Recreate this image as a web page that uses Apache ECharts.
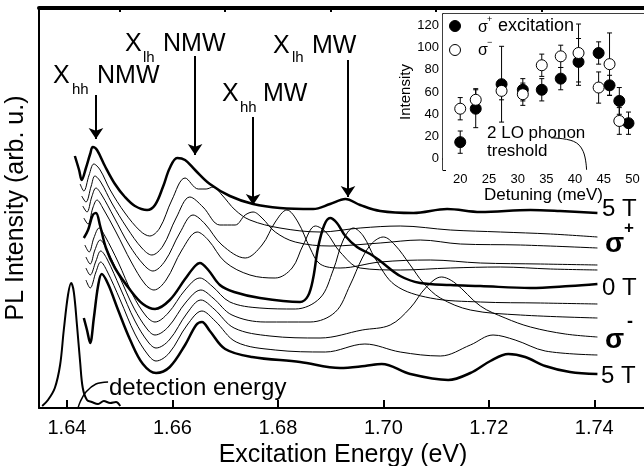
<!DOCTYPE html>
<html>
<head>
<meta charset="utf-8">
<script src="https://cdn.jsdelivr.net/npm/echarts@6/dist/echarts.min.js"></script>
<style>
  html, body { margin: 0; padding: 0; background: #fff; }
  #chart { width: 644px; height: 466px; }
</style>
</head>
<body>
<div id="chart"></div>
<script>
// main panel: excitation energy (eV) vs PL intensity (offset, arb. u.)
const energyTicks = [1.64, 1.66, 1.68, 1.70, 1.72, 1.74]
const energyMinorTicks = [1.65, 1.67, 1.69, 1.71, 1.73]

const sPlus5T = [[1.6415,252],[1.6423,238],[1.6428,228],[1.6436,240],[1.6444,254],[1.6449,261],[1.6457,258],[1.6472,242],[1.6491,224],[1.6510,211],[1.6529,202],[1.6552,198],[1.6567,203],[1.6582,221],[1.6595,240],[1.6609,250],[1.6624,248],[1.6643,238],[1.6671,224],[1.6709,212],[1.6753,204],[1.6804,200],[1.6867,199],[1.6899,204],[1.6928,209],[1.6956,203],[1.6994,197],[1.7057,195],[1.7121,199],[1.7184,196],[1.7279,198],[1.7335,197],[1.7406,195]]
const sPlus4T = [[1.6425,224],[1.6432,217],[1.6442,233],[1.6451,244],[1.6463,238],[1.6482,218],[1.6510,195],[1.6539,177],[1.6557,172],[1.6576,180],[1.6599,208],[1.6624,230],[1.6649,219],[1.6664,219],[1.6677,221],[1.6694,213],[1.6719,198],[1.6747,188],[1.6804,180],[1.6880,176],[1.6956,180],[1.7032,182],[1.7127,178],[1.7222,176],[1.7317,174],[1.7406,171]]
const sPlus3T = [[1.6428,212],[1.6436,206],[1.6446,222],[1.6453,232],[1.6464,226],[1.6485,205],[1.6514,180],[1.6542,160],[1.6561,153],[1.6582,162],[1.6607,190],[1.6633,211],[1.6658,201],[1.6690,183],[1.6719,183],[1.6738,193],[1.6753,196],[1.6770,190],[1.6795,176],[1.6833,166],[1.6899,162],[1.6994,165],[1.7070,168],[1.7146,164],[1.7260,163],[1.7406,160]]
const sPlus2T = [[1.6430,202],[1.6438,196],[1.6447,211],[1.6455,220],[1.6466,213],[1.6489,191],[1.6518,163],[1.6546,143],[1.6563,137],[1.6586,147],[1.6614,175],[1.6639,193],[1.6662,184],[1.6694,163],[1.6738,150],[1.6770,163],[1.6795,186],[1.6817,198],[1.6838,186],[1.6861,160],[1.6880,144],[1.6918,140],[1.6994,146],[1.7089,148],[1.7184,145],[1.7298,144],[1.7406,143]]
const sPlus1T = [[1.6432,190],[1.6440,184],[1.6449,200],[1.6457,208],[1.6468,200],[1.6493,176],[1.6522,146],[1.6548,124],[1.6565,118],[1.6588,128],[1.6618,158],[1.6647,176],[1.6668,168],[1.6700,146],[1.6747,133],[1.6795,130],[1.6827,140],[1.6848,163],[1.6871,182],[1.6891,176],[1.6918,156],[1.6956,140],[1.7032,138],[1.7127,140],[1.7222,141],[1.7317,139],[1.7406,138]]
const s0T = [[1.6432,170],[1.6440,178],[1.6449,193],[1.6455,195],[1.6463,182],[1.6474,160],[1.6491,140],[1.6520,118],[1.6544,104],[1.6567,99],[1.6595,108],[1.6624,129],[1.6643,142],[1.6652,145],[1.6668,138],[1.6690,123],[1.6717,116],[1.6766,110],[1.6842,106],[1.6857,112],[1.6867,130],[1.6876,160],[1.6888,183],[1.6899,190],[1.6912,185],[1.6928,172],[1.6950,161],[1.6975,154],[1.6994,147],[1.7032,132],[1.7070,125],[1.7127,123],[1.7184,122],[1.7279,120],[1.7354,122],[1.7406,124]]
const sMinus1T = [[1.6434,163],[1.6442,156],[1.6451,170],[1.6461,180],[1.6472,172],[1.6497,146],[1.6525,113],[1.6550,92],[1.6567,86],[1.6592,95],[1.6624,118],[1.6652,130],[1.6675,122],[1.6709,106],[1.6766,100],[1.6833,99],[1.6880,110],[1.6905,138],[1.6924,168],[1.6943,180],[1.6962,172],[1.6984,150],[1.7022,123],[1.7089,110],[1.7184,106],[1.7298,105],[1.7406,104]]
const sMinus2T = [[1.6436,151],[1.6444,144],[1.6453,158],[1.6463,168],[1.6474,160],[1.6499,132],[1.6527,100],[1.6552,79],[1.6567,73],[1.6592,81],[1.6626,106],[1.6654,118],[1.6677,110],[1.6713,93],[1.6776,86],[1.6861,86],[1.6909,96],[1.6937,123],[1.6960,150],[1.6979,165],[1.7000,171],[1.7022,163],[1.7051,143],[1.7076,125],[1.7108,110],[1.7165,98],[1.7260,93],[1.7406,90]]
const sMinus3T = [[1.6436,140],[1.6444,133],[1.6455,147],[1.6464,157],[1.6476,149],[1.6501,120],[1.6529,87],[1.6554,66],[1.6569,60],[1.6594,68],[1.6628,95],[1.6654,108],[1.6679,99],[1.6717,80],[1.6785,72],[1.6880,70],[1.6960,78],[1.7013,83],[1.7051,100],[1.7080,120],[1.7110,131],[1.7136,125],[1.7184,102],[1.7231,90],[1.7279,81],[1.7345,74],[1.7406,71]]
const sMinus4T = [[1.6436,128],[1.6444,120],[1.6455,136],[1.6464,146],[1.6476,137],[1.6501,108],[1.6529,74],[1.6554,53],[1.6569,47],[1.6594,55],[1.6628,83],[1.6656,97],[1.6681,87],[1.6721,66],[1.6795,58],[1.6890,56],[1.6965,64],[1.7032,56],[1.7108,52],[1.7165,63],[1.7208,73],[1.7250,68],[1.7307,57],[1.7406,53]]
const sMinus5T = [[1.6432,90],[1.6438,78],[1.6444,65],[1.6451,90],[1.6459,122],[1.6466,134],[1.6478,124],[1.6497,98],[1.6520,68],[1.6544,44],[1.6569,35],[1.6595,41],[1.6624,63],[1.6645,83],[1.6656,86],[1.6671,77],[1.6700,59],[1.6751,51],[1.6842,46],[1.6918,40],[1.6965,42],[1.6997,44],[1.7051,34],[1.7123,28],[1.7165,35],[1.7203,47],[1.7237,54],[1.7269,51],[1.7307,42],[1.7354,36],[1.7406,34]]
const detection = [[1.6353,2],[1.6364,8],[1.6377,20],[1.6387,43],[1.6394,78],[1.6402,113],[1.6408,125],[1.6413,116],[1.6419,83],[1.6425,46],[1.6430,20],[1.6438,8],[1.6447,6],[1.6459,4],[1.6470,7],[1.6482,5],[1.6493,6],[1.6501,2]]
const detectionPointer = [[1.6478,26],[1.6455,24],[1.6436,16],[1.6425,6],[1.6421,0]]

// arrows: energy, from, to
const arrowMarks = [[1.6455,313,269],[1.6643,352,253],[1.6753,291,203],[1.6933,348,211]]

// inset: intensity vs detuning
const detuningTicks = [20, 25, 30, 35, 40, 45, 50]
const plusDetuning = [20, 22.7, 27.2, 30.9, 34.2, 37.5, 40.6, 44.1, 46.0, 47.7, 49.3]
const plusIntensity = [15, 45, 67, 62, 62, 72, 87, 95, 66, 52, 32]
const plusError = [10, 17, 34, 10, 10, 10, 21, 10, 9, 12, 10]
const minusDetuning = [20, 22.7, 27.2, 30.9, 34.2, 37.5, 40.6, 44.1, 46.0, 47.7]
const minusIntensity = [45, 53, 61, 58, 84, 92, 95, 64, 85, 34]
const minusError = [10, 10, 8, 10, 10, 10, 26, 14, 28, 12]
const thresholdPointer = [[35.8,18.8],[39.7,15.8],[41.4,6.8],[42.0,-10]]

const FONT = "Liberation Sans, Arial, sans-serif"
const chart = echarts.init(document.getElementById("chart"))

const spectrum = (data, width) => ({
    type: "line",
    xAxisIndex: 0,
    yAxisIndex: 0,
    data,
    smooth: 0.35,
    symbol: "none",
    silent: true,
    lineStyle: { color: "#000", width },
    z: 3,
})

const errorBars = (xs, ys, es) => ({
    type: "custom",
    xAxisIndex: 3,
    yAxisIndex: 1,
    silent: true,
    data: xs.map((x, i) => [x, ys[i] - es[i], ys[i] + es[i]]),
    renderItem: (params, api) => {
        const top = api.coord([api.value(0), api.value(2)])
        const bot = api.coord([api.value(0), api.value(1)])
        const st = { stroke: "#000", lineWidth: 1 }
        return {
            type: "group",
            children: [
                { type: "line", shape: { x1: top[0], y1: top[1], x2: bot[0], y2: bot[1] }, style: st },
                { type: "line", shape: { x1: top[0] - 2.5, y1: top[1], x2: top[0] + 2.5, y2: top[1] }, style: st },
                { type: "line", shape: { x1: bot[0] - 2.5, y1: bot[1], x2: bot[0] + 2.5, y2: bot[1] }, style: st },
            ],
        }
    },
    z: 5,
})

const txt = (text, x, y, size, weight) => ({
    type: "text",
    x,
    y,
    silent: true,
    style: {
        text,
        fill: "#000",
        fontSize: size,
        fontFamily: FONT,
        fontWeight: weight || "normal",
        verticalAlign: "middle",
    },
    z: 20,
})

const option = {
    animation: false,
    backgroundColor: "#fff",
    grid: [
        { left: 39, top: 8, right: -3, bottom: 58, outerBoundsMode: "none" },
        { left: 443, top: 14, right: 0, bottom: 296, outerBoundsMode: "none", show: true, backgroundColor: "#fff", borderWidth: 0, z: 4 },
    ],
    xAxis: [
        {
            gridIndex: 0, type: "value", min: 1.6347, max: 1.75,
            axisLine: { lineStyle: { color: "#000", width: 2 } },
            axisTick: { inside: true, length: 8, lineStyle: { color: "#000", width: 2 }, customValues: energyTicks },
            axisLabel: { customValues: energyTicks, color: "#000", fontSize: 20, fontFamily: FONT, margin: 10, formatter: (v) => v.toFixed(2) },
            splitLine: { show: false },
            name: "Excitation Energy (eV)", nameLocation: "middle", nameGap: 24,
            nameTextStyle: { color: "#000", fontSize: 25, fontFamily: FONT },
        },
        {
            gridIndex: 0, type: "value", min: 1.6347, max: 1.75,
            axisLine: { show: false },
            axisTick: { inside: true, length: 4, lineStyle: { color: "#000", width: 2 }, customValues: energyMinorTicks },
            axisLabel: { show: false },
            splitLine: { show: false },
        },
        {
            gridIndex: 0, type: "value", min: 1.6347, max: 1.75, position: "top",
            axisLine: { lineStyle: { color: "#000", width: 4 } },
            axisTick: { show: false }, axisLabel: { show: false }, splitLine: { show: false },
        },
        {
            gridIndex: 1, type: "value", min: 17, max: 52, interval: 1,
            axisLine: { lineStyle: { color: "#000", width: 1.5 } },
            axisTick: { inside: true, length: 3, lineStyle: { color: "#000", width: 1 } },
            axisLabel: { color: "#000", fontSize: 13, fontFamily: FONT, margin: 3, formatter: (v) => (detuningTicks.includes(v) ? String(v) : "") },
            splitLine: { show: false },
            name: "Detuning (meV)", nameLocation: "middle", nameGap: 17,
            nameTextStyle: { color: "#000", fontSize: 17, fontFamily: FONT },
        },
        {
            gridIndex: 1, type: "value", min: 17, max: 52, position: "top",
            axisLine: { lineStyle: { color: "#000", width: 1.5 } },
            axisTick: { show: false }, axisLabel: { show: false }, splitLine: { show: false },
        },
    ],
    yAxis: [
        {
            gridIndex: 0, type: "value", min: 0, max: 400,
            axisLine: { show: true, lineStyle: { color: "#000", width: 2 } },
            axisTick: { show: false }, axisLabel: { show: false }, splitLine: { show: false },
            name: "PL Intensity (arb. u.)", nameLocation: "middle", nameGap: 10,
            nameTextStyle: { color: "#000", fontSize: 25, fontFamily: FONT },
        },
        {
            gridIndex: 1, type: "value", min: -10, max: 130, interval: 10,
            axisLine: { show: true, lineStyle: { color: "#000", width: 1.5 } },
            axisTick: { inside: true, length: 3, lineStyle: { color: "#000", width: 1 } },
            axisLabel: { color: "#000", fontSize: 13, fontFamily: FONT, margin: 4, formatter: (v) => (v >= 0 && v % 20 === 0 ? String(v) : "") },
            splitLine: { show: false },
            name: "Intensity", nameLocation: "middle", nameGap: 30,
            nameTextStyle: { color: "#000", fontSize: 15, fontFamily: FONT },
        },
    ],
    series: [
        spectrum(sPlus5T, 2.5),
        spectrum(sPlus4T, 1),
        spectrum(sPlus3T, 1),
        spectrum(sPlus2T, 1),
        spectrum(sPlus1T, 1),
        spectrum(s0T, 2.5),
        spectrum(sMinus1T, 1),
        spectrum(sMinus2T, 1),
        spectrum(sMinus3T, 1),
        spectrum(sMinus4T, 1),
        spectrum(sMinus5T, 2.5),
        spectrum(detection, 2),
        spectrum(detectionPointer, 1.5),
        {
            type: "line", xAxisIndex: 0, yAxisIndex: 0, data: [], silent: true,
            markLine: {
                silent: true, animation: false,
                symbol: ["none", "arrow"], symbolSize: 11,
                label: { show: false },
                lineStyle: { color: "#000", width: 2, type: "solid" },
                data: arrowMarks.map(([e, a, b]) => [{ coord: [e, a] }, { coord: [e, b] }]),
            },
        },
        errorBars(plusDetuning, plusIntensity, plusError),
        errorBars(minusDetuning, minusIntensity, minusError),
        {
            type: "scatter", xAxisIndex: 3, yAxisIndex: 1, silent: true, z: 6,
            data: plusDetuning.map((x, i) => [x, plusIntensity[i]]),
            symbol: "circle", symbolSize: 11,
            itemStyle: { color: "#000", borderColor: "#000", borderWidth: 1, opacity: 1 },
        },
        {
            type: "scatter", xAxisIndex: 3, yAxisIndex: 1, silent: true, z: 7,
            data: minusDetuning.map((x, i) => [x, minusIntensity[i]]),
            symbol: "circle", symbolSize: 11,
            itemStyle: { color: "#fff", borderColor: "#000", borderWidth: 1, opacity: 1 },
        },
        {
            type: "line", xAxisIndex: 3, yAxisIndex: 1, data: thresholdPointer, smooth: 0.4,
            symbol: "none", silent: true, lineStyle: { color: "#000", width: 1 }, z: 5,
        },
    ],
    graphic: [
        txt("X", 53, 76, 25), txt("hh", 72, 90, 15), txt("NMW", 97, 76, 25),
        txt("X", 125, 44, 25), txt("lh", 143, 58, 15), txt("NMW", 163, 44, 25),
        txt("X", 222, 94, 25), txt("hh", 240, 108, 15), txt("MW", 263, 94, 25),
        txt("X", 273, 46, 25), txt("lh", 292, 58, 15), txt("MW", 312, 46, 25),
        txt("5 T", 602, 209, 24),
        txt("σ", 605, 244, 28, "bold"), txt("+", 624, 228, 17, "bold"),
        txt("0 T", 602, 288, 24),
        txt("σ", 605, 340, 28, "bold"), txt("-", 627, 322, 18, "bold"),
        txt("5 T", 601, 376, 24),
        txt("detection energy", 109, 388, 24),
        txt("2 LO phonon", 487, 133, 17),
        txt("treshold", 487, 151, 17),
        { type: "circle", shape: { cx: 455, cy: 26, r: 5.5 }, style: { fill: "#000", stroke: "#000" }, z: 20, silent: true },
        { type: "circle", shape: { cx: 455, cy: 50, r: 5.5 }, style: { fill: "#fff", stroke: "#000", lineWidth: 1 }, z: 20, silent: true },
        txt("σ", 478, 28, 16), txt("+", 487, 20, 9),
        txt("excitation", 498, 26, 18),
        txt("σ", 478, 51, 16), txt("−", 487, 43, 9),
    ],
}

chart.setOption(option)
</script>
</body>
</html>
